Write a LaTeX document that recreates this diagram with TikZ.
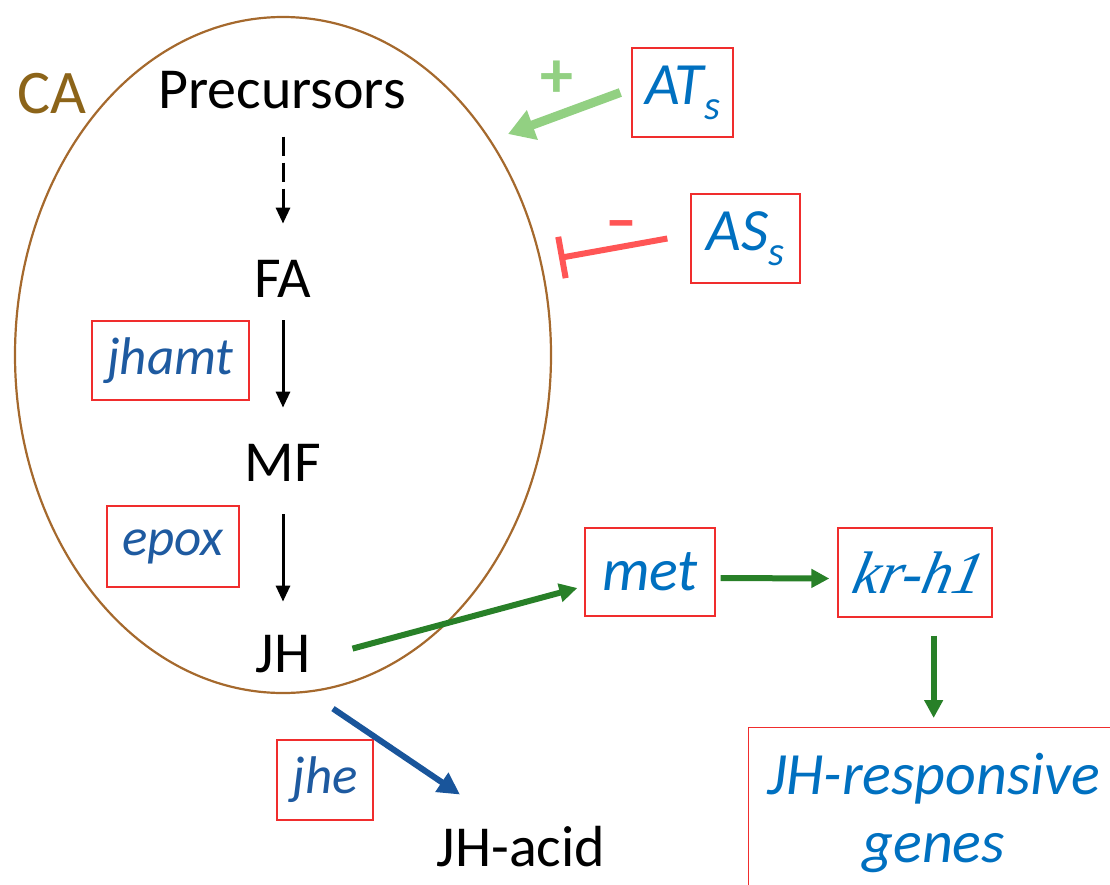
\documentclass[tikz,border=0pt]{standalone}
\usepackage{fontspec}
\setmainfont{Carlito}
% slanted serif face for the kr-h1 gene name
\newfontfamily\krital{Liberation Serif}[FakeSlant=0.22]
\usetikzlibrary{arrows.meta,shapes.geometric,calc}

\definecolor{caBrown}{RGB}{165,105,45}
\definecolor{caText}{RGB}{140,100,25}
\definecolor{boxRed}{RGB}{240,45,45}
\definecolor{geneBlue}{RGB}{0,112,192}
\definecolor{enzBlue}{RGB}{30,90,160}
\definecolor{actGreen}{RGB}{146,208,130}
\definecolor{inhRed}{RGB}{255,85,85}
\definecolor{sigGreen}{RGB}{40,128,40}
\definecolor{degBlue}{RGB}{25,85,155}

\newcommand{\subs}{\raisebox{-15pt}{\fontsize{41}{41}\selectfont s}}

\begin{document}
\begin{tikzpicture}[x=1pt,y=-1pt,
  metab/.style={inner sep=0pt, anchor=base, text=black,
    font=\fontsize{58}{62}\selectfont},
  genebox/.style={draw=boxRed, line width=1.3pt, inner sep=0pt,
    text=geneBlue, font=\fontsize{60}{66}\selectfont\itshape},
  enzbox/.style={genebox, text=enzBlue, font=\fontsize{53}{58}\selectfont\itshape},
  rxnarrow/.style={draw=black, line width=3pt, -{Triangle[length=16pt,width=14pt]}},
  signal/.style={draw=sigGreen, line width=6pt, -{Triangle[length=18pt,width=18pt]}}
]
\useasboundingbox (0,0) rectangle (1110,884);

% corpora allata
\node[ellipse, draw=caBrown, line width=2.2pt, minimum width=536pt,
      minimum height=676pt, inner sep=0pt] (ca) at (283,355) {};
\node[metab, text=caText, font=\fontsize{62}{66}\selectfont] (calabel) at (52,113) {CA};

% biosynthesis chain
\node[metab] (pre) at (282,108) {Precursors};
\node[metab] (fa) at (283,297) {FA};
\node[metab] (mf) at (283,481) {MF};
\node[metab] (jh) at (283,672) {JH};
\node[metab] (jhacid) at (521,866) {JH-acid};

\draw[rxnarrow, dash pattern=on 19pt off 7pt, shorten <=28pt, shorten >=36pt]
  (pre.south -| fa.north) -- (fa.north);
\draw[rxnarrow, shorten <=23pt, shorten >=36pt] (fa.south) -- (mf.north);
\draw[rxnarrow, shorten <=33pt, shorten >=33pt] (mf.south) -- (jh.north);

% enzymes
\node[enzbox, minimum width=157pt, minimum height=79pt] (jhamt) at (170.5,360.5) {jhamt};
\node[enzbox, minimum width=132pt, minimum height=81pt] (epox) at (173,546.5) {epox};
\node[enzbox, minimum width=96pt, minimum height=80pt] (jhe) at (325,780) {jhe};

% regulators
\node[genebox, minimum width=101pt, minimum height=89pt] (at) at (682.5,92.5) {AT\subs};
\node[genebox, minimum width=109pt, minimum height=89pt] (as) at (745.5,238.5) {AS\subs};

\coordinate (atend) at (508,134);
\coordinate (asend) at (559,258);
\draw[draw=actGreen, line width=9pt, -{Triangle[length=26pt,width=30pt]}]
  ($(at.west)+(-11,0)$) -- (atend);
\node[text=actGreen, inner sep=0pt, font=\fontsize{66}{66}\selectfont\bfseries] (plus) at (557,79) {+};
\draw[draw=inhRed, line width=6pt, -{Bar[width=42pt]}]
  ($(as.west)+(-23,0)$) -- (asend);
\node[text=inhRed, inner sep=0pt, anchor=base, font=\fontsize{64}{64}\selectfont\bfseries] (minus) at (621,241) {–};

% signalling
\node[genebox, minimum width=130pt, minimum height=88pt] (met) at (650,572) {met};
\node[genebox, minimum width=154pt, minimum height=89pt] (kr) at (915,572.5)
  {\krital\fontsize{60}{66}\selectfont kr-h1};
\node[genebox, anchor=north west, minimum width=370pt, minimum height=170pt,
      align=center, font=\fontsize{60}{68}\selectfont\itshape] (genes) at (748,727)
  {JH-responsive\\genes};

\draw[signal] ($(jh.east)+(42,-5)$) -- ($(met.west)+(-7,16)$);
\draw[signal] ($(met.east)+(5,6)$) -- ($(kr.west)+(-8,6)$);
\draw[signal] ($(kr.south -| genes.north)+(0,18)$) -- ($(genes.north)+(0,-9)$);

% degradation
\draw[draw=degBlue, line width=6pt, -{Triangle[length=22pt,width=22pt]}]
  ($(jh.south)+(50,36)$) -- ($(jhacid.north)+(-61,-31)$);
\end{tikzpicture}
\end{document}
